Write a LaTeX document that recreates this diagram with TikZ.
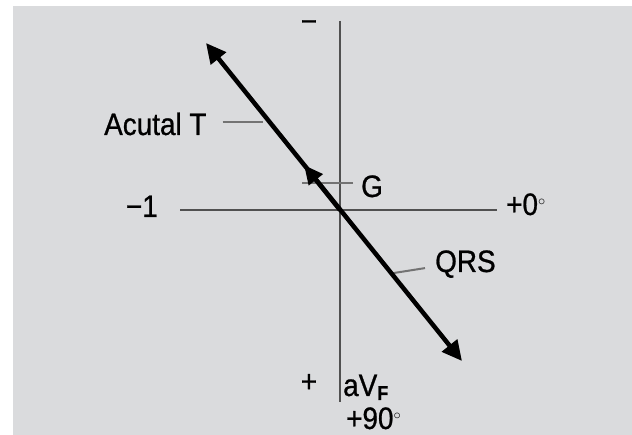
\documentclass[tikz,border=0pt]{standalone}
\usepackage{fontspec}
\setmainfont[FakeStretch=0.9, FakeBold=0.8]{Liberation Sans}
\usetikzlibrary{arrows.meta, positioning}
\definecolor{panel}{RGB}{218,219,221}
\definecolor{axisgray}{RGB}{80,80,80}
\definecolor{leadgray}{RGB}{115,115,115}

\begin{document}
\begin{tikzpicture}[
        x=1pt, y=-1pt,
        axis/.style={draw=axisgray, line width=2.8pt},
        vec/.style={line width=4.5pt, {Triangle[length=20pt,width=19pt]}-{Triangle[length=20pt,width=19pt]}},
        gvec/.style={line width=4.5pt, -{Triangle[length=19pt,width=17pt]}},
        leader/.style={draw=leadgray, line width=2pt},
        lbl/.style={font=\fontsize{31}{33}\selectfont, inner sep=0pt}
    ]
    \useasboundingbox (0,0) rectangle (632,435);
    \fill[panel] (13,6) rectangle (632,435);

    % axes
    \coordinate (O) at (340,210);
    \coordinate (top) at (340,21);
    \coordinate (bot) at (340,402);
    \coordinate (lft) at (180,210);
    \coordinate (rgt) at (497,210);
    \draw[axis] (top) -- (bot);
    \draw[axis] (lft) -- (rgt);

    % vector ends
    \coordinate (tTip) at (206,43);
    \coordinate (qTip) at (462,361);
    \coordinate (gTip) at (304,165);
    \path (O) -- (qTip) coordinate[pos=0.42] (qHit);

    % labels
    \node[lbl, anchor=base west] (tlab) at (104,135) {Acutal T};
    \node[lbl, anchor=base east] (mlab) at (158,217) {−1};
    \node[lbl, anchor=base west] (zlab) at (506,215) {+0$^{\scriptscriptstyle\circ}$};
    \node[lbl, anchor=base west] (glab) at (361,197) {G};
    \node[lbl, anchor=base west] (qlab) at (435,272) {QRS};
    \node[lbl] (neg) at (309,26) {−};
    \node[lbl] (pos) at (309,383) {+};
    \node[lbl, anchor=base west] (avf) at (343,396) {aV\raisebox{-4pt}{\fontsize{20}{20}\selectfont\textbf{F}}};
    \node[lbl, anchor=base west] (deg) at (346,429) {+90$^{\scriptscriptstyle\circ}$};

    % leaders
    \draw[leader] ([xshift=16pt,yshift=2pt]tlab.east) -- ++(40,0);
    \draw[leader] ([xshift=-8pt,yshift=3pt]glab.west) -- ++(-51,0);
    \draw[leader] ([xshift=-10pt,yshift=-4pt]qlab.west) -- (qHit);

    % vectors
    \draw[vec] (tTip) -- (qTip);
    \draw[gvec] (O) -- (gTip);
\end{tikzpicture}
\end{document}
